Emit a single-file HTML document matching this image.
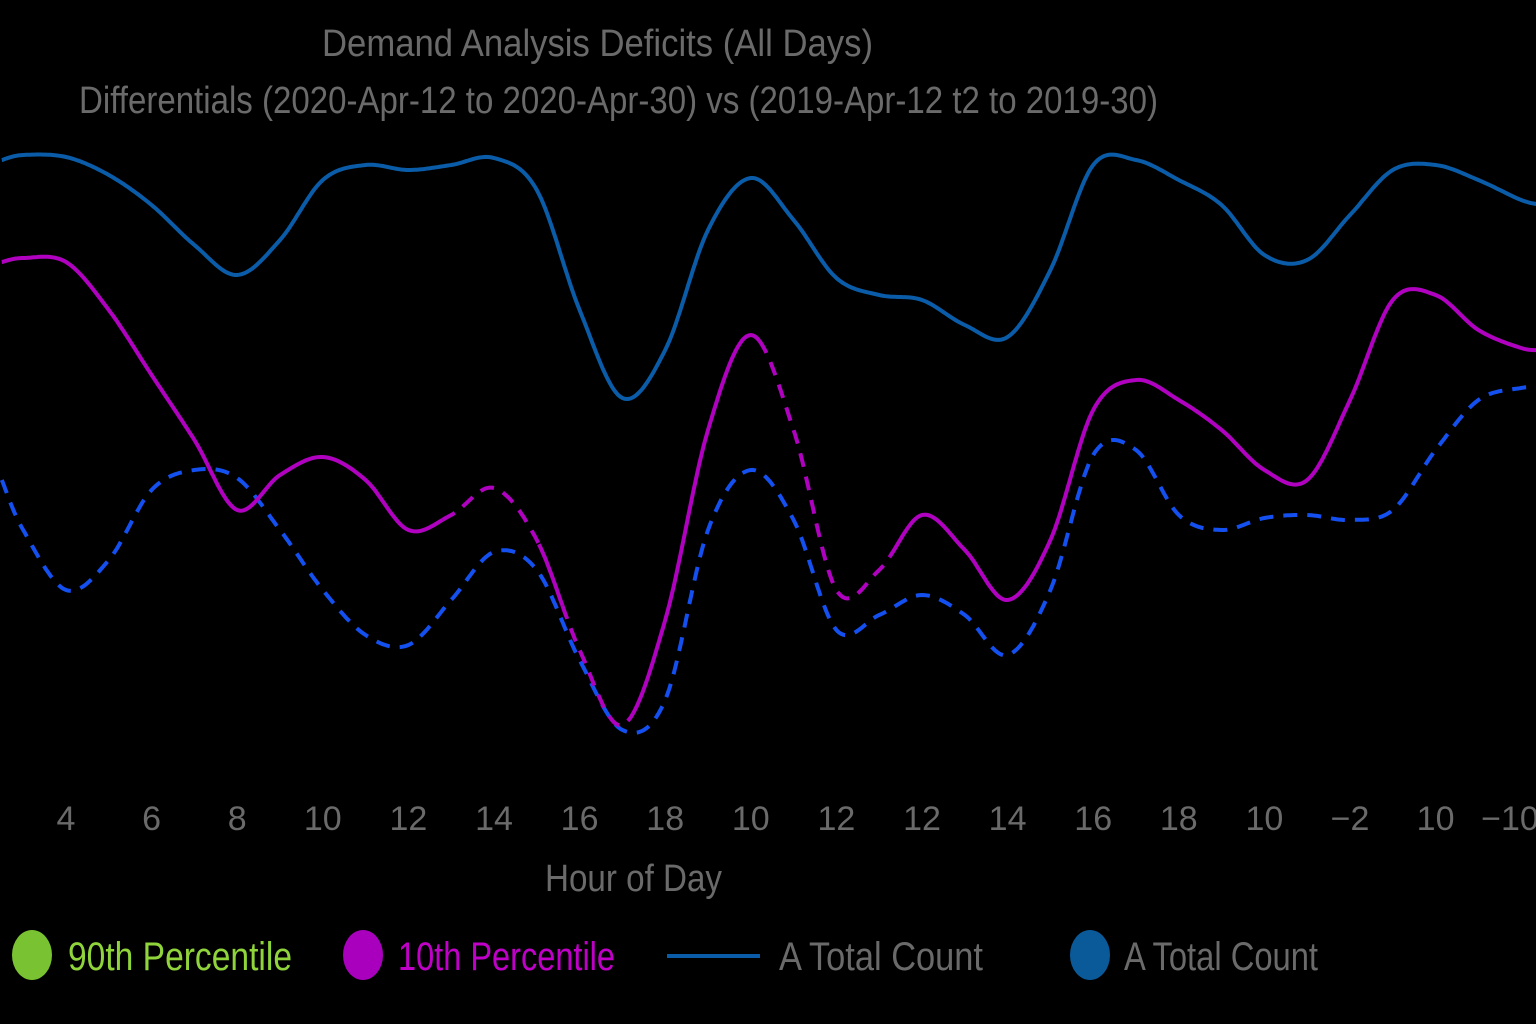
<!DOCTYPE html>
<html><head><meta charset="utf-8"><style>
html,body{margin:0;padding:0;background:#000;}
svg{display:block;}
text{font-family:"Liberation Sans Narrow","Liberation Sans",sans-serif;}
</style></head><body>
<svg id="chart" width="1536" height="1024" viewBox="0 0 1536 1024" xmlns="http://www.w3.org/2000/svg">
<rect width="1536" height="1024" fill="#000"/>
<text x="322" y="56" font-size="38" fill="#6a6a6a" textLength="551" lengthAdjust="spacingAndGlyphs">Demand Analysis Deficits (All Days)</text>
<text x="79" y="113" font-size="38" fill="#6a6a6a" textLength="1079" lengthAdjust="spacingAndGlyphs">Differentials (2020-Apr-12 to 2020-Apr-30) vs (2019-Apr-12 t2 to 2019-30)</text>
<g id="plot"></g>
<g id="xticks"></g>
<text x="545" y="891" font-size="38" fill="#6a6a6a" textLength="177" lengthAdjust="spacingAndGlyphs">Hour of Day</text>
<g>
 <g>
  <ellipse cx="32" cy="955" rx="20" ry="25" fill="#79c231"/>
  <text x="68" y="970" font-size="40" fill="#8fd43a" textLength="224" lengthAdjust="spacingAndGlyphs">90th Percentile</text>
 </g>
 <g>
  <ellipse cx="363" cy="955" rx="20" ry="25" fill="#a800bc"/>
  <text x="398" y="970" font-size="40" fill="#c000c8" textLength="217" lengthAdjust="spacingAndGlyphs">10th Percentile</text>
 </g>
 <g>
  <line x1="667" y1="956" x2="760" y2="956" stroke="#0a5ca8" stroke-width="4"/>
  <text x="779" y="970" font-size="40" fill="#6a6a6a" textLength="204" lengthAdjust="spacingAndGlyphs">A Total Count</text>
 </g>
 <g>
  <ellipse cx="1090" cy="955" rx="20" ry="25" fill="#0a5a9a"/>
  <text x="1124" y="970" font-size="40" fill="#6a6a6a" textLength="194" lengthAdjust="spacingAndGlyphs">A Total Count</text>
 </g>
</g>
</svg>
<script>
const tickLabels = ["4","6","8","10","12","14","16","18","10","12","12","14","16","18","10","\u22122","10","\u221210"];
const positions = [-0.75,-0.5,0,0.5,1,1.5,2,2.5,3,3.5,4,4.5,5,5.5,6,6.5,7,7.5,8,8.5,9,9.5,10,10.5,11,11.5,12,12.5,13,13.5,14,14.5,15,15.5,16,16.5,17,17.25];
const totalCount = [64,64.5,64.3,62.5,59.5,55.5,52.5,56,62,63.5,63,63.5,64.2,61,49,40.2,45,57,62.2,58,52.2,50.5,50,47.5,46.3,53,63.5,64,62,59.5,54.5,54,58.5,63,63.5,62,60,59.5];
const p10 = [53.8,54.2,53.8,49,42.5,36,29,32.5,34.3,32,27,28.5,31.2,26,15,7.5,18,37,46.5,37,21,23,28.5,25,20,26,39,42,40,37,33,32,40,50,50.5,47,45.2,45];
const p90 = [32,27,21,24,31,33,32.2,27,21,16.5,15.5,20,24.8,23,14,7,10,27,33,28,17,18.5,20.5,18.5,14.5,21,34.5,35,28.5,27,28.2,28.5,28,29,35,40,41.2,41.2];
const p10Dashed = [[4.4,5.5],[5.8,6.6],[8.1,9.6]];

const xS = i => 66 + 85.6 * i;
const yS = v => 800 - 10 * v;
const NS = "http://www.w3.org/2000/svg";
const plot = document.getElementById('plot');
const xt = document.getElementById('xticks');

tickLabels.forEach((t, i) => {
  const el = document.createElementNS(NS, 'text');
  
  
  el.setAttribute('x', i === 17 ? 1510 : xS(i));
  el.setAttribute('y', 830);
  el.setAttribute('text-anchor', 'middle');
  el.setAttribute('font-size', '34');
  el.setAttribute('fill', '#6a6a6a');
  el.textContent = t;
  xt.appendChild(el);
});

function pts(vals){ return vals.map((v,i)=>[xS(positions[i]), yS(v)]); }
function sample(p){
  const out=[];
  for(let i=0;i<p.length-1;i++){
    const p0=p[Math.max(0,i-1)],p1=p[i],p2=p[i+1],p3=p[Math.min(p.length-1,i+2)];
    for(let s=0;s<20;s++){
      const t=s/20,t2=t*t,t3=t2*t;
      const f=(a,b,c,d)=>0.5*((2*b)+(-a+c)*t+(2*a-5*b+4*c-d)*t2+(-a+3*b-3*c+d)*t3);
      out.push([f(p0[0],p1[0],p2[0],p3[0]),f(p0[1],p1[1],p2[1],p3[1]),positions[i]+(positions[i+1]-positions[i])*t]);
    }
  }
  const l=p[p.length-1];out.push([l[0],l[1],positions[positions.length-1]]);
  return out;
}
function d(s){ return s.map((q,i)=>(i?'L':'M')+q[0].toFixed(1)+' '+q[1].toFixed(1)).join(''); }
function addPath(dd, color, w, dash, name){
  const el=document.createElementNS(NS,'path');
  
  
  el.setAttribute('d', dd);
  el.setAttribute('fill','none');
  el.setAttribute('stroke',color);
  el.setAttribute('stroke-width',w);
  if(dash) el.setAttribute('stroke-dasharray',dash);
  plot.appendChild(el);
}
addPath(d(sample(pts(p90))), '#1450f0', 4, '14 10', 'line-90th-percentile');
addPath(d(sample(pts(totalCount))), '#0a5ca8', 4, null, 'line-total-count');
const s10 = sample(pts(p10));
const inDash = t => p10Dashed.some(r => t>=r[0] && t<=r[1]);
let seg=[s10[0]], cur=inDash(s10[0][2]);
for(let i=1;i<s10.length;i++){
  const dd=inDash(s10[i][2]);
  seg.push(s10[i]);
  if(dd!==cur || i===s10.length-1){
    addPath(d(seg), '#b000c0', 4, cur ? '14 10' : null, 'line-10th-percentile');
    seg=[s10[i]]; cur=dd;
  }
}
</script>
</body></html>
